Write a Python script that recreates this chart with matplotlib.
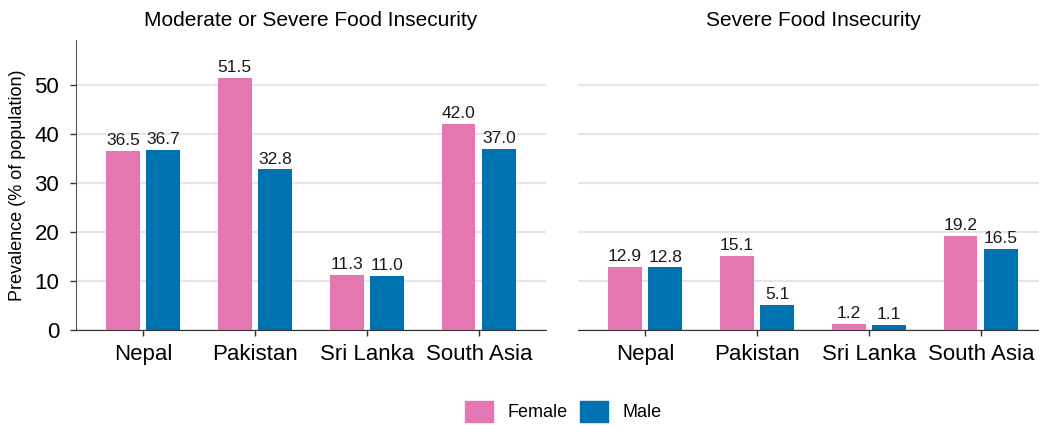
import numpy as np
import matplotlib
matplotlib.use("Agg")
import matplotlib.pyplot as plt
from matplotlib.patches import Patch

plt.rcParams['font.family'] = ['Liberation Sans', 'DejaVu Sans']

# data
countries = ["Nepal", "Pakistan", "Sri Lanka", "South Asia"]
mod_female = [36.5, 51.5, 11.3, 42.0]
mod_male = [36.7, 32.8, 11.0, 37.0]
sev_female = [12.9, 15.1, 1.2, 19.2]
sev_male = [12.8, 5.1, 1.1, 16.5]
titles = ["Moderate or Severe Food Insecurity", "Severe Food Insecurity"]

pink = "#E476B2"
blue = "#0072B2"

fig = plt.figure(figsize=(10.39, 4.25), dpi=100)
ax1 = fig.add_axes([0.0731, 0.2235, 0.4523, 0.6824])
ax2 = fig.add_axes([0.5563, 0.2235, 0.4523, 0.6824])

x = np.arange(len(countries))
w = 0.3
for ax, fem, mal, title in [(ax1, mod_female, mod_male, titles[0]),
                            (ax2, sev_female, sev_male, titles[1])]:
    b1 = ax.bar(x - 0.03 - w / 2, fem, w, color=pink, zorder=3)
    b2 = ax.bar(x + 0.03 + w / 2, mal, w, color=blue, zorder=3)
    for bars in (b1, b2):
        ax.bar_label(bars, fmt="%.1f", padding=2, fontsize=12.5, color="#1a1a1a")
    ax.set_xlim(-0.6, 3.6)
    ax.set_ylim(0, 59.2)
    ax.set_yticks([0, 10, 20, 30, 40, 50])
    ax.set_xticks(x)
    ax.set_xticklabels(countries, fontsize=16)
    ax.tick_params(axis='x', length=4, width=1, color="#333333", pad=6)
    ax.tick_params(axis='y', length=4, width=1, color="#333333", labelsize=16, pad=8)
    ax.grid(axis='y', color="#e6e6e6", linewidth=1.5, zorder=0)
    for s in ["top", "right"]:
        ax.spines[s].set_visible(False)
    ax.spines["bottom"].set_color("#333333")
    ax.spines["left"].set_color("#555555")
    ax.set_title(title, fontsize=15, pad=10)

ax1.set_ylabel("Prevalence (% of population)", fontsize=13, labelpad=6)
ax2.spines["left"].set_visible(False)
ax2.tick_params(axis='y', left=False, labelleft=False)

handles = [Patch(color=pink, label="Female"), Patch(color=blue, label="Male")]
fig.legend(handles=handles, loc="lower center", bbox_to_anchor=(0.542, -0.03), ncol=2,
           frameon=False, fontsize=13, handlelength=1.55, handleheight=1.4,
           columnspacing=0.7, handletextpad=0.8)

fig.savefig("out.png", dpi=100)
